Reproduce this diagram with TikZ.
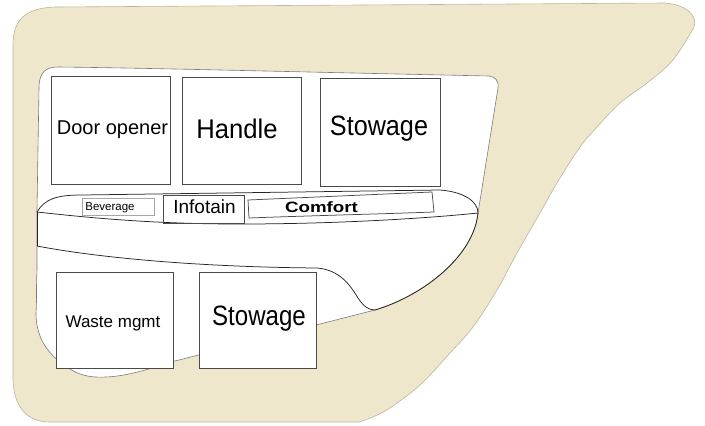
\documentclass[tikz,border=0pt]{standalone}
\usepackage{fontspec}
\setmainfont{Liberation Sans}
\usepackage{graphicx}
\definecolor{panel}{HTML}{EEE7CB}
\definecolor{panelline}{HTML}{BDB59C}
\definecolor{boxline}{HTML}{4A4A4A}
\definecolor{edgegrey}{HTML}{7A7A7A}
\newcommand{\fsz}[1]{\fontsize{#1}{#1}\selectfont}
\tikzset{
  box/.style={draw=boxline, line width=0.75pt, fill=white, inner sep=0pt},
  smallbox/.style={draw=black!35, line width=0.6pt, fill=white, inner sep=0pt},
  lbl/.style={anchor=base, inner sep=0pt, text=black},
  bandline/.style={draw=black!85, line width=0.75pt},
}
\begin{document}
\begin{tikzpicture}[x=1pt,y=-1pt]
\useasboundingbox (0,0) rectangle (705,426);

% outer beige panel
\fill[panel, draw=panelline, line width=0.6pt]
  (13,380) -- (13,45) .. controls (13,20) and (25,8) .. (55,7)
  -- (665,3) .. controls (686,5) and (698,15) .. (694,27)
  -- plot[smooth, tension=0.6] coordinates {(694,27) (673,60) (647,83) (620,103) (597,127) (580,147) (557,183) (540,213) (517,253) (497,290) (473,327) (450,353) (420,385) (385,411) (359,422)}
  -- (50,422) .. controls (25,422) and (14,405) .. (13,380) -- cycle;

% white inner area
\fill[white, draw=edgegrey, line width=0.6pt]
  (39,88) .. controls (39,72) and (46,67) .. (58,67)
  .. controls (150,68) and (300,72) .. (489,76)
  .. controls (495,77) and (499,80) .. (498,88)
  -- (478,213)
  .. controls (474,255) and (425,295) .. (375,310)
  -- (171,362)
  .. controls (140,372) and (120,378) .. (95,377)
  .. controls (80,376) and (70,370) .. (60,362)
  .. controls (45,350) and (36,335) .. (36,313)
  .. controls (37,300) and (36,290) .. (37,270)
  -- (37,210) -- cycle;

% band lines
\coordinate (bl) at (37,212);
\coordinate (br) at (478,213);
\coordinate (bll) at (37,246);
\coordinate (bot) at (375,310);
\draw[bandline] (bl) .. controls (45,199) and (56,195) .. (82,195)
  -- (440,190) .. controls (465,192) and (478,202) .. (br);
\draw[bandline] (bl) .. controls (100,219) and (160,224) .. (240,224)
  .. controls (330,224) and (420,219) .. (br);
\draw[bandline] (bl) -- (bll);
\draw[bandline] (bll) .. controls (100,258) and (200,267) .. (317,268)
  .. controls (340,270) and (350,285) .. (358,298)
  .. controls (364,307) and (369,310) .. (bot);
\draw[bandline] (br) .. controls (474,255) and (425,295) .. (bot);

% upper boxes
\node[box, minimum width=119pt, minimum height=108pt] (door) at (110.5,130) {};
\node[box, minimum width=119pt, minimum height=107pt] (handle) at (241.5,130.5) {};
\node[box, minimum width=120pt, minimum height=108pt] (stowtop) at (380,132) {};

% band items
\node[smallbox, minimum width=72pt, minimum height=17pt] (bev) at (118,206.5) {};
\node[draw=boxline, line width=0.6pt, inner sep=0pt, minimum width=81pt, minimum height=28pt] (info) at (203.5,209.5) {};
\draw[draw=boxline, line width=0.75pt, fill=white] (248,200) -- (432,192) -- (434,212)
  .. controls (380,214) and (300,216) .. (249,218) -- cycle;

% lower boxes
\node[box, minimum width=117pt, minimum height=96pt] (waste) at (114.5,320) {};
\node[box, minimum width=117pt, minimum height=96pt] (stowbot) at (257.5,320) {};

% labels
\node[lbl] (tdoor) at (112.5,134) {\fsz{20}Door opener};
\node[lbl] (thandle) at (237,138) {\scalebox{0.95}[1]{\fsz{27}Handle}};
\node[lbl] (tstowtop) at (379,135) {\scalebox{0.9}[1]{\fsz{28}Stowage}};
\node[lbl] (tbev) at (110,210) {\fsz{11.5}Beverage};
\node[lbl] (tinfo) at (204.5,213) {\fsz{19}Infotain};
\node[lbl] (tcomf) at (321.5,212) {\scalebox{1.25}[1]{\fsz{15}\bfseries Comfort}};
\node[lbl] (twaste) at (113,327) {\fsz{17}Waste mgmt};
\node[lbl] (tstowbot) at (259,325) {\scalebox{0.86}[1]{\fsz{28}Stowage}};
\end{tikzpicture}
\end{document}
